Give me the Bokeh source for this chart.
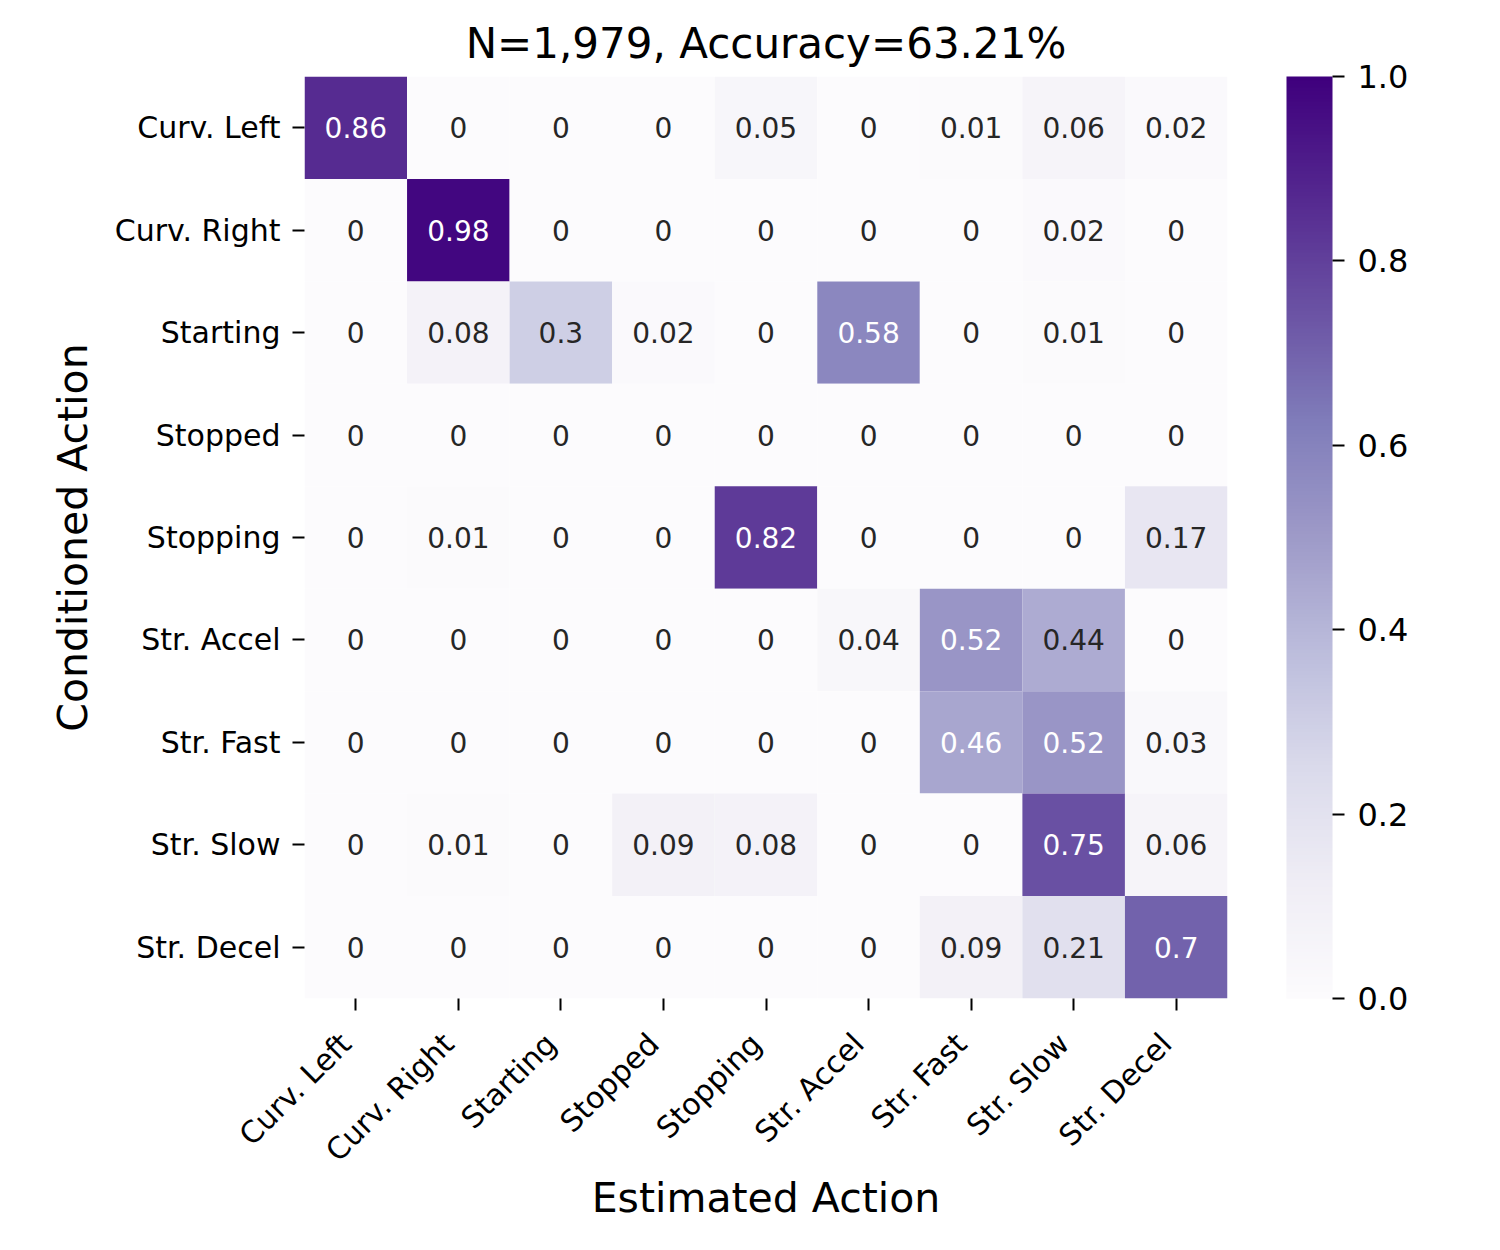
import math
from bokeh.plotting import figure
from bokeh.models import (ColumnDataSource, LinearColorMapper, ColorBar, FixedTicker,
                          PrintfTickFormatter, Range1d, LinearAxis)
from bokeh.palettes import Purples256
from bokeh.embed import file_html
from bokeh.resources import INLINE
from bokeh.core.properties import value

# ---------------- data ----------------
labels = ["Curv. Left", "Curv. Right", "Starting", "Stopped", "Stopping",
          "Str. Accel", "Str. Fast", "Str. Slow", "Str. Decel"]

row_curv_left = [0.86, 0, 0, 0, 0.05, 0, 0.01, 0.06, 0.02]
row_curv_right = [0, 0.98, 0, 0, 0, 0, 0, 0.02, 0]
row_starting = [0, 0.08, 0.3, 0.02, 0, 0.58, 0, 0.01, 0]
row_stopped = [0, 0, 0, 0, 0, 0, 0, 0, 0]
row_stopping = [0, 0.01, 0, 0, 0.82, 0, 0, 0, 0.17]
row_str_accel = [0, 0, 0, 0, 0, 0.04, 0.52, 0.44, 0]
row_str_fast = [0, 0, 0, 0, 0, 0, 0.46, 0.52, 0.03]
row_str_slow = [0, 0.01, 0, 0.09, 0.08, 0, 0, 0.75, 0.06]
row_str_decel = [0, 0, 0, 0, 0, 0, 0.09, 0.21, 0.7]

rows = [row_curv_left, row_curv_right, row_starting, row_stopped, row_stopping,
        row_str_accel, row_str_fast, row_str_slow, row_str_decel]

colorbar_ticks = [0.0, 0.2, 0.4, 0.6, 0.8, 1.0]
title_text = "N=1,979, Accuracy=63.21%"
x_label = "Estimated Action"
y_label = "Conditioned Action"

# ---------------- build ----------------
palette = list(reversed(Purples256))  # light -> dark
mapper = LinearColorMapper(palette=palette, low=0, high=1)


def _lum(hexcol):
    r, g, b = (int(hexcol[i:i + 2], 16) / 255 for i in (1, 3, 5))
    def ch(c):
        return c / 12.92 if c <= 0.03928 else ((c + 0.055) / 1.055) ** 2.4
    return 0.2126 * ch(r) + 0.7152 * ch(g) + 0.0722 * ch(b)


n = len(labels)
col_centers = [i + 0.5 for i in range(n)]          # column i of the matrix
row_centers = [n - i - 0.5 for i in range(n)]      # row i of the matrix (top first)

xs, ys, vals, txt, tcol = [], [], [], [], []
for r_i, row in enumerate(rows):
    for c_i, v in enumerate(row):
        xs.append(col_centers[c_i])
        ys.append(row_centers[r_i])
        vals.append(v)
        txt.append(f"{v:.2g}")
        col = palette[min(255, int(v * 255.999))]
        tcol.append("#262626" if _lum(col) > 0.408 else "white")

src = ColumnDataSource(dict(x=xs, y=ys, v=vals, t=txt, tc=tcol))

FONT = "DejaVu Sans"
FRAME_W = 923

p = figure(x_range=Range1d(0, n), y_range=Range1d(0, n),
           frame_width=FRAME_W, frame_height=922,
           min_border_left=304, min_border_top=76, min_border_bottom=240,
           min_border_right=262,
           output_backend="svg", toolbar_location=None, title=title_text)

p.rect(x="x", y="y", width=1, height=1, source=src,
       fill_color={"field": "v", "transform": mapper}, line_color=None)
p.text(x="x", y="y", text="t", source=src, text_color="tc",
       text_align="center", text_baseline="middle",
       text_font=value(FONT), text_font_size="28px")

p.title.text_font = FONT
p.title.text_font_size = "42px"
p.title.text_font_style = "normal"
p.title.align = "center"
p.title.text_color = "black"
p.title.standoff = 17

p.grid.visible = False
p.outline_line_color = None
p.background_fill_color = "white"
p.border_fill_color = "white"

for ax in (p.xaxis, p.yaxis):
    ax.axis_line_color = None
    ax.major_tick_out = 12
    ax.major_tick_in = 0
    ax.major_tick_line_width = 2
    ax.major_tick_line_color = "black"
    ax.minor_tick_line_color = None
    ax.major_label_text_font = FONT
    ax.major_label_text_font_size = "30px"
    ax.major_label_text_color = "black"
    ax.major_label_standoff = 12
    ax.axis_label_text_font = FONT
    ax.axis_label_text_font_size = "41px"
    ax.axis_label_text_font_style = "normal"
    ax.axis_label_text_color = "black"

p.yaxis.ticker = FixedTicker(ticks=row_centers)
p.yaxis.major_label_overrides = {t: lab for t, lab in zip(row_centers, labels)}
p.yaxis.axis_label = y_label
p.yaxis.axis_label_standoff = 15

# the main x axis draws only the tick marks
p.xaxis.ticker = FixedTicker(ticks=col_centers)
p.xaxis.major_label_overrides = {t: "" for t in col_centers}
p.xaxis.major_label_text_font_size = "0px"
p.xaxis.major_label_standoff = 0

# a second axis below carries the rotated labels, anchored like matplotlib's
# ha="right" (label box corner at the tick), i.e. nudged ~10px to the left
shift = 10 * n / FRAME_W
p.extra_x_ranges = {"lab": Range1d(start=shift, end=n + shift)}
lab_axis = LinearAxis(x_range_name="lab", ticker=FixedTicker(ticks=col_centers),
                      major_label_overrides={t: lab for t, lab in zip(col_centers, labels)},
                      major_label_orientation=math.pi / 4,
                      axis_line_color=None, major_tick_line_color=None,
                      minor_tick_line_color=None, major_tick_out=0, major_tick_in=0,
                      major_label_standoff=28,
                      major_label_text_font=FONT, major_label_text_font_size="30px",
                      major_label_text_color="black",
                      axis_label=x_label, axis_label_standoff=-9,
                      axis_label_text_font=FONT, axis_label_text_font_size="41px",
                      axis_label_text_font_style="normal", axis_label_text_color="black")
p.add_layout(lab_axis, "below")

cb = ColorBar(color_mapper=mapper, ticker=FixedTicker(ticks=colorbar_ticks),
              formatter=PrintfTickFormatter(format="%.1f"),
              width=46, height=922, padding=0, margin=0,
              major_label_text_font=FONT, major_label_text_font_size="32px",
              major_label_text_color="black",
              major_tick_out=12, major_tick_in=0, major_tick_line_color="black",
              major_tick_line_width=2, minor_tick_line_color=None,
              label_standoff=13, bar_line_color=None, border_line_color=None,
              background_fill_color=None, location=(59, 0))
p.add_layout(cb, "right")

open("out.html", "w").write(file_html(p, INLINE))
